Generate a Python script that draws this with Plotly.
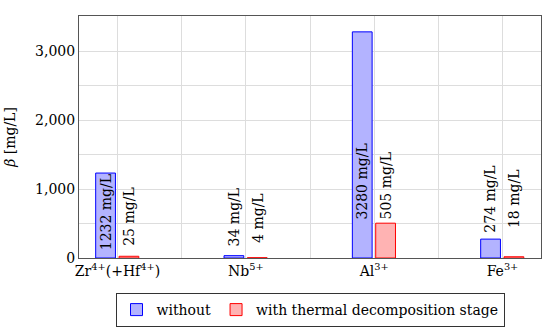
import plotly.graph_objects as go

categories = ["Zr<sup>4+</sup>(+Hf<sup>4+</sup>)", "Nb<sup>5+</sup>", "Al<sup>3+</sup>", "Fe<sup>3+</sup>"]
without_vals = [1232, 34, 3280, 274]
with_vals = [25, 4, 505, 18]
without_label_base = [77, 145, 531, 338]
with_label_base = [154, 193, 531, 411]
series_names = ["without", "with thermal decomposition stage"]

FONT = "'DejaVu Serif', 'Liberation Serif', serif"
FS = 14
xs = list(range(len(categories)))
W = 0.154
OFF_A = -0.17
OFF_B = 0.012

fig = go.Figure()
fig.add_trace(go.Bar(
    x=xs, y=without_vals, name=series_names[0], width=W, offset=OFF_A,
    marker=dict(color="#B3B3FF", line=dict(color="#0000FF", width=1)),
))
fig.add_trace(go.Bar(
    x=xs, y=with_vals, name=series_names[1], width=W, offset=OFF_B,
    marker=dict(color="#FFB3B3", line=dict(color="#FF0000", width=1)),
))

annotations = []
for i, (v, b) in enumerate(zip(without_vals, without_label_base)):
    annotations.append(dict(x=i + OFF_A + W / 2, y=b, text=f"{v} mg/L", textangle=-90,
                            showarrow=False, xanchor="center", yanchor="bottom",
                            font=dict(family=FONT, size=FS, color="black")))
for i, (v, b) in enumerate(zip(with_vals, with_label_base)):
    annotations.append(dict(x=i + OFF_B + W / 2, y=b, text=f"{v} mg/L", textangle=-90,
                            showarrow=False, xanchor="center", yanchor="bottom",
                            font=dict(family=FONT, size=FS, color="black")))

fig.update_layout(
    width=550, height=332,
    margin=dict(l=79, r=9, t=16, b=74, autoexpand=False),
    paper_bgcolor="white", plot_bgcolor="white",
    font=dict(family=FONT, size=FS, color="black"),
    barmode="overlay",
    annotations=annotations,
    showlegend=True,
    legend=dict(orientation="h", x=0.5, xanchor="center",
                yref="container", y=1 - 310 / 332, yanchor="middle",
                bordercolor="#333333", borderwidth=1, font=dict(family=FONT, size=FS),
                itemwidth=30, tracegroupgap=0),
    xaxis=dict(
        range=[-0.3, 3.3], tickvals=xs, ticktext=categories,
        tickfont=dict(family=FONT, size=FS), automargin=False,
        showgrid=True, gridcolor="#DDDDDD", gridwidth=1,
        minor=dict(dtick=0.5, tick0=0, showgrid=True, gridcolor="#DDDDDD", gridwidth=1),
        showline=True, linecolor="#555555", linewidth=1, mirror=True,
        ticks="", zeroline=False,
    ),
    yaxis=dict(
        range=[0, 3510], tickvals=[0, 1000, 2000, 3000], tickformat=",d",
        tickfont=dict(family=FONT, size=FS), automargin=False,
        showgrid=True, gridcolor="#DDDDDD", gridwidth=1,
        minor=dict(dtick=500, tick0=0, showgrid=True, gridcolor="#DDDDDD", gridwidth=1),
        showline=True, linecolor="#555555", linewidth=1, mirror=True,
        ticks="", zeroline=False,
        title=dict(text="<i>β</i> [mg/L]", font=dict(family=FONT, size=FS), standoff=16),
    ),
)
fig.write_html("out.html", config={"displayModeBar": False},
               post_script="document.body.style.margin='0';")
